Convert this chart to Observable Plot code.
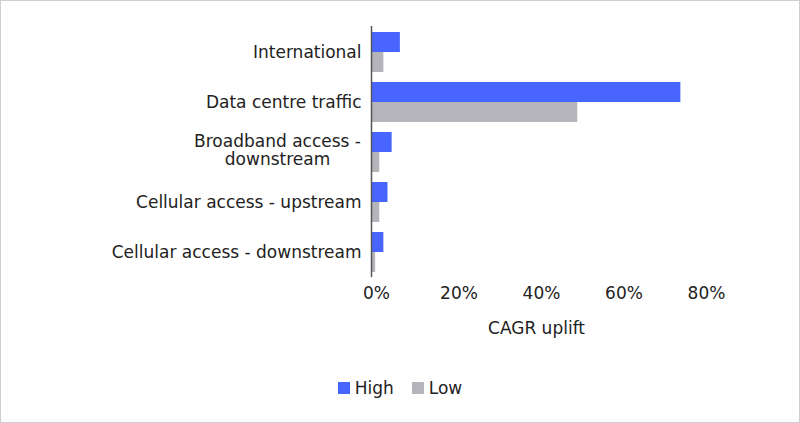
<!DOCTYPE html>
<html>
<head>
<meta charset="utf-8">
<script src="https://cdn.jsdelivr.net/npm/d3@7"></script>
<script src="https://cdn.jsdelivr.net/npm/@observablehq/plot@0.6"></script>
<style>
  html, body { margin: 0; padding: 0; background: #fff; }
  #frame { width: 798px; height: 421px; border: 1px solid #cfcfcf; position: relative; overflow: hidden; font-family: "DejaVu Sans", sans-serif; color: #222; }
  #legend { position: absolute; left: 0; right: 0; top: 377px; display: flex; justify-content: center; gap: 18px; font-size: 17px; }
  .item { display: flex; align-items: center; gap: 5px; }
  .sw { width: 12px; height: 12px; display: inline-block; }
</style>
</head>
<body>
<div id="frame">
  <div id="chart"></div>
  <div id="legend"></div>
</div>
<script>
const categories = ["International", "Data centre traffic", "Broadband access -\ndownstream", "Cellular access - upstream", "Cellular access - downstream"];
const highValues = [0.07, 0.75, 0.05, 0.04, 0.03];
const lowValues = [0.03, 0.50, 0.02, 0.02, 0.01];
const series = ["High", "Low"];
const colors = ["#4965FF", "#B6B4BB"];
const xTicks = [0, 0.2, 0.4, 0.6, 0.8];
const wrappedLabels = categories.filter(c => c.includes("\n"));

const high = categories.map((c, i) => ({cat: c, value: highValues[i]}));
const low = categories.map((c, i) => ({cat: c, value: lowValues[i]}));

const chart = Plot.plot({
  width: 798,
  height: 360,
  marginLeft: 370,
  marginRight: 98,
  marginTop: 25,
  marginBottom: 84,
  style: {fontFamily: "DejaVu Sans, sans-serif", fontSize: "17px", color: "#222"},
  x: {domain: [0, 0.8], ticks: xTicks, tickFormat: d => Math.round(d * 100) + "%", axis: null},
  y: {domain: categories, paddingInner: 0.2, paddingOuter: 0.11, axis: null},
  marks: [
    Plot.barX(high, {x: "value", y: "cat", fill: colors[0], insetBottom: 20}),
    Plot.barX(low, {x: "value", y: "cat", fill: colors[1], insetTop: 20}),
    Plot.ruleX([0], {stroke: "#555", strokeWidth: 1.5}),
    Plot.axisX({ticks: xTicks, tickFormat: d => Math.round(d * 100) + "%", tickSize: 0, tickPadding: 9, dx: 5, fontSize: 17, label: "CAGR uplift", labelAnchor: "center", labelArrow: "none", labelOffset: 56}),
    Plot.axisY({tickSize: 0, tickPadding: 10, fontSize: 17, label: null, tickFormat: d => d.includes("\n") ? "" : d}),
    Plot.text(wrappedLabels, {y: d => d, x: 0, text: d => d, textAnchor: "middle", dx: -94, dy: -2, lineHeight: 1.07, fontSize: 17, fill: "#222"})
  ]
});
document.getElementById("chart").appendChild(chart);

const legend = document.getElementById("legend");
series.forEach((s, i) => {
  const it = document.createElement("div");
  it.className = "item";
  it.innerHTML = `<span class="sw" style="background:${colors[i]}"></span><span>${s}</span>`;
  legend.appendChild(it);
});
</script>
</body>
</html>
